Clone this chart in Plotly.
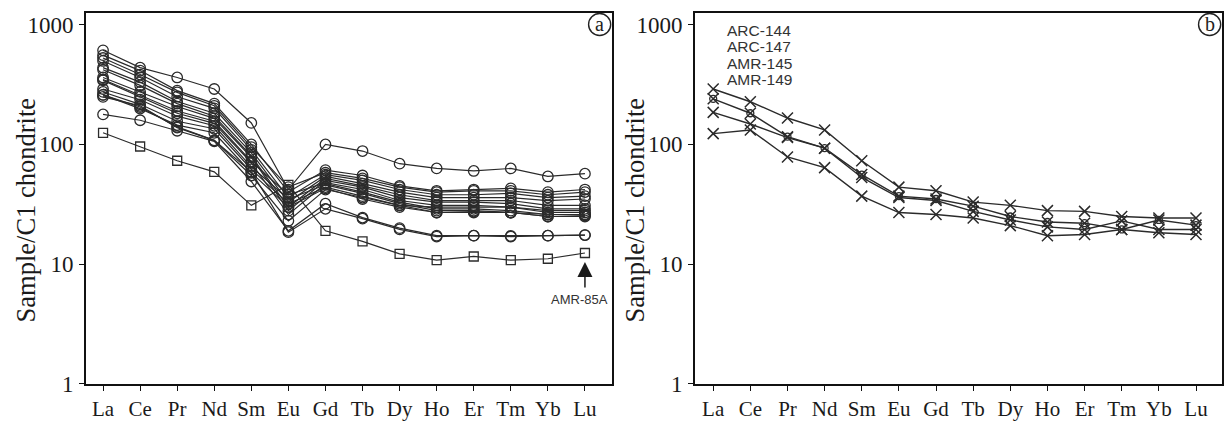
import math
import plotly.graph_objects as go

# Rare earth elements, in order along the x axis
ELEMENTS = ["La", "Ce", "Pr", "Nd", "Sm", "Eu", "Gd", "Tb", "Dy", "Ho", "Er", "Tm", "Yb", "Lu"]

# Panel (a): chondrite-normalised REE patterns (open circles)
A_S01 = [610, 437, 362, 290, 151, 42, 100, 88, 69, 63, 60, 63, 54, 57]
A_S02 = [556, 413, 281, 219, 100, 40, 61, 55, 45, 41, 42, 43, 40, 42]
A_S03 = [526, 383, 272, 210, 95, 44, 58, 52, 44, 40, 41, 41, 38, 40]
A_S04 = [497, 362, 250, 200, 90, 36, 56, 50, 42, 38, 38, 39, 36, 37]
A_S05 = [437, 331, 228, 182, 85, 33, 54, 47, 40, 36, 36, 36, 34, 35]
A_S06 = [420, 311, 219, 172, 80, 30, 52, 45, 38, 34, 34, 34, 31, 31]
A_S07 = [362, 274, 207, 165, 78, 28, 50, 44, 36, 33, 33, 32, 29, 29]
A_S08 = [348, 259, 190, 156, 72, 38, 48, 42, 34, 31, 31, 30, 27, 27]
A_S09 = [342, 250, 182, 150, 70, 26, 47, 40, 33, 29, 29, 28, 26, 26]
A_S10 = [290, 236, 172, 143, 65, 35, 46, 39, 32, 28, 28, 27, 25, 25.5]
A_S11 = [274, 216, 156, 135, 62, 32, 44, 37, 31, 27, 27, 27, 25, 25]
A_S12 = [259, 199, 145, 125, 58, 30, 43, 35, 30, 27, 27.5, 27, 26, 26]
A_S13 = [249, 210, 138, 108, 55, 23, 42, 36, 31, 30, 30, 30, 28, 28]
A_S14 = [178, 159, 130, 106, 49, 19, 32, 24.5, 20, 17.3, 17.3, 17.2, 17.3, 17.5]
A_S15 = [259, 205, 140, 108, 59, 18.5, 29, 24, 19.5, 17, 17.3, 17, 17.3, 17.5]
A_CIRCLES = [A_S01, A_S02, A_S03, A_S04, A_S05, A_S06, A_S07, A_S08,
             A_S09, A_S10, A_S11, A_S12, A_S13, A_S14, A_S15]

# Panel (a): sample AMR-85A (open squares)
AMR_85A_LABEL = "AMR-85A"
AMR_85A = [125, 96, 73, 59, 31, 46, 19, 15.5, 12.2, 10.8, 11.6, 10.8, 11.1, 12.4]

# Panel (b): four samples (crosses)
B_LABELS = ["ARC-144", "ARC-147", "AMR-145", "AMR-149"]
B_S1 = [290, 227, 166, 132, 73, 44, 41, 33, 31, 28, 27.6, 25, 24.3, 24.3]
B_S2 = [240, 182, 116, 93, 56, 37, 35, 30.5, 25, 22.5, 22, 19.5, 23.4, 21.2]
B_S3 = [185, 148, 114, 93, 53, 36, 34, 27.6, 23.4, 20.5, 19.5, 23, 19.5, 19.5]
B_S4 = [123, 132, 78.5, 64, 37, 27, 26, 24.3, 21, 17.3, 17.7, 19.5, 18.3, 17.7]
B_SERIES = [B_S1, B_S2, B_S3, B_S4]

Y_TICKS = [1, 10, 100, 1000]
Y_TITLE = "Sample/C1 chondrite"

INK = "#2b2b2b"
SERIF = "Liberation Serif, Times New Roman, serif"
SANS = "Liberation Sans, Arial, sans-serif"

W, H = 1232, 429
PLOT_TOP, PLOT_BOTTOM = 13, 396
A_LEFT, A_RIGHT = 86, 612
B_LEFT, B_RIGHT = 695, 1222

fig = go.Figure()

for vals in A_CIRCLES:
    fig.add_trace(go.Scatter(
        x=ELEMENTS, y=vals, mode="lines+markers", xaxis="x", yaxis="y",
        line=dict(color=INK, width=1.2),
        marker=dict(symbol="circle-open", size=10.5, color=INK, line=dict(width=1.3)),
        showlegend=False, hoverinfo="skip"))

fig.add_trace(go.Scatter(
    x=ELEMENTS, y=AMR_85A, mode="lines+markers", xaxis="x", yaxis="y",
    line=dict(color=INK, width=1.2),
    marker=dict(symbol="square-open", size=9, color=INK, line=dict(width=1.3)),
    showlegend=False, hoverinfo="skip"))

for i, vals in enumerate(B_SERIES):
    fig.add_trace(go.Scatter(
        x=ELEMENTS, y=vals, mode="lines+markers", xaxis="x2", yaxis="y2",
        line=dict(color=INK, width=1.4),
        marker=dict(symbol="x-thin-open", size=11, color=INK, line=dict(width=1.5)),
        showlegend=False, hoverinfo="skip"))
    if i == 1:
        # this sample's crosses carry a small ring as well
        fig.add_trace(go.Scatter(
            x=ELEMENTS, y=vals, mode="markers", xaxis="x2", yaxis="y2",
            marker=dict(symbol="circle-open", size=7, color=INK, line=dict(width=1.3)),
            showlegend=False, hoverinfo="skip"))

axis_common = dict(
    showline=True, linecolor="#111", linewidth=1.6, mirror=True,
    ticks="outside", ticklen=5, tickcolor="#111", tickwidth=1.2,
    showgrid=False, zeroline=False,
)

xaxis_common = dict(axis_common, type="category",
                    tickfont=dict(family=SERIF, size=21, color="#1a1a1a"))

yaxis_common = dict(
    axis_common, type="log", range=[0, 3.1],
    tickvals=Y_TICKS, ticktext=[str(v) for v in Y_TICKS],
    tickfont=dict(family=SERIF, size=23, color="#1a1a1a"),
    ticklabelstandoff=1,
)

y_dom = [1 - PLOT_BOTTOM / H, 1 - PLOT_TOP / H]
fig.update_layout(
    width=W, height=H,
    margin=dict(l=0, r=0, t=0, b=0),
    paper_bgcolor="white", plot_bgcolor="white",
    xaxis=dict(xaxis_common, domain=[A_LEFT / W, A_RIGHT / W], range=[-0.46, 13.73], anchor="y"),
    yaxis=dict(yaxis_common, domain=y_dom, anchor="x"),
    xaxis2=dict(xaxis_common, domain=[B_LEFT / W, B_RIGHT / W], range=[-0.49, 13.70], anchor="y2"),
    yaxis2=dict(yaxis_common, domain=y_dom, anchor="x2"),
)

# Y-axis titles
for left in (A_LEFT, B_LEFT):
    fig.add_annotation(xref="paper", yref="paper", x=(left - 60) / W, y=1 - 217 / H,
                       text=Y_TITLE, textangle=-90, showarrow=False,
                       xanchor="center", yanchor="middle",
                       font=dict(family=SERIF, size=26.5, color="#1a1a1a"))

# Circled panel letters
for xref, yref, letter in [("x domain", "y domain", "a"), ("x2 domain", "y2 domain", "b")]:
    fig.add_shape(type="circle", xref=xref, yref=yref,
                  x0=0.9555, x1=0.9975, y0=0.9385, y1=0.9975,
                  line=dict(color="#222", width=1.4))
    fig.add_annotation(xref=xref, yref=yref, x=0.9765, y=0.970, text=letter,
                       showarrow=False, font=dict(family=SERIF, size=20, color="#222"),
                       xanchor="center", yanchor="middle")

# Arrow pointing up at the AMR-85A pattern (annotation y is in log10 units on a log axis)
lu_tip = math.log10(AMR_85A[-1]) - 0.075
fig.add_annotation(xref="x", yref="y", x="Lu", y=lu_tip,
                   ax=0, ay=27, text="", showarrow=True,
                   arrowhead=2, arrowsize=2.0, arrowwidth=1.5, arrowcolor="#1a1a1a",
                   standoff=0)
fig.add_annotation(xref="x", yref="y", x="Lu", y=lu_tip, text=AMR_85A_LABEL,
                   showarrow=False, xanchor="center", yanchor="top",
                   xshift=-5, yshift=-28,
                   font=dict(family=SANS, size=13, color="#333"))

# Sample names listed in panel (b)
for i, name in enumerate(B_LABELS):
    fig.add_annotation(xref="x2 domain", yref="paper", x=0.057,
                       y=1 - (31.7 + 16.7 * i) / H, text=name, showarrow=False,
                       xanchor="left", yanchor="middle",
                       font=dict(family=SANS, size=15.5, color="#333"))

fig.write_html("out.html")
